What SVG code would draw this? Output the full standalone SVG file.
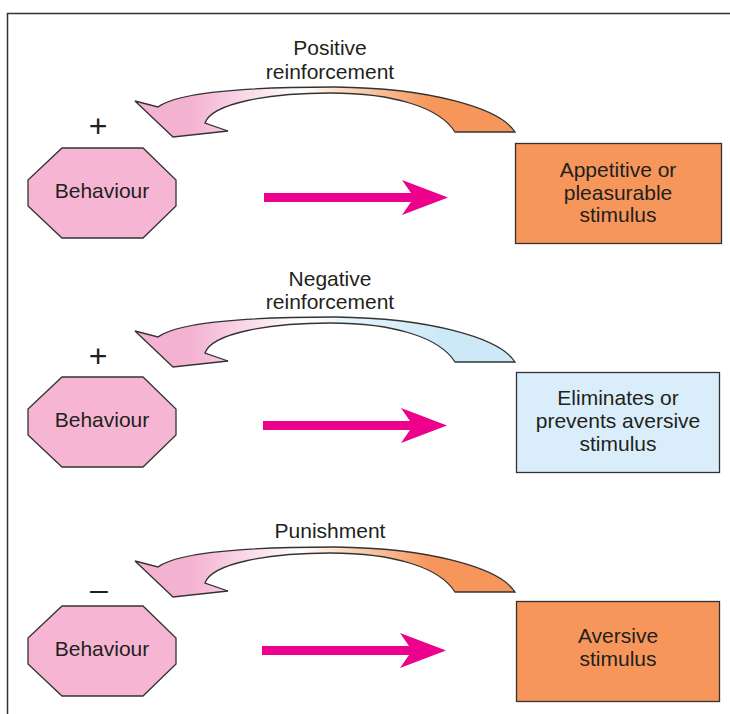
<svg xmlns="http://www.w3.org/2000/svg" width="730" height="714" viewBox="0 0 730 714">
<defs>
<style>
.t{font-family:"Liberation Sans",Arial,sans-serif;font-size:21px;fill:#231f20;text-anchor:middle}
.s{font-family:"Liberation Sans",Arial,sans-serif;font-size:32px;fill:#231f20;text-anchor:middle}
.oct{fill:#f6b6d3;stroke:#333;stroke-width:1.3}
.box{stroke:#333;stroke-width:1.3}
.cur{stroke:#333;stroke-width:1.3}
.str{fill:#ec008c}
</style>
<linearGradient id="gO" x1="0" y1="0" x2="1" y2="0">
<stop offset="0" stop-color="#f4b0d0"/>
<stop offset="0.15" stop-color="#f4b3d2"/>
<stop offset="0.44" stop-color="#ffffff"/>
<stop offset="0.56" stop-color="#fbd6bd"/>
<stop offset="0.78" stop-color="#f7965a"/>
<stop offset="1" stop-color="#f7965a"/>
</linearGradient>
<linearGradient id="gB" x1="0" y1="0" x2="1" y2="0">
<stop offset="0" stop-color="#f4b0d0"/>
<stop offset="0.15" stop-color="#f4b3d2"/>
<stop offset="0.44" stop-color="#ffffff"/>
<stop offset="0.56" stop-color="#e6f4fb"/>
<stop offset="0.8" stop-color="#cde9f8"/>
<stop offset="1" stop-color="#cde9f8"/>
</linearGradient>
<path id="curve" d="M135,101 L158,107 C180,90 270,87 335,87 C430,88 500,108 515,132 L455,132 C440,108 395,93 330,93 C270,93 212,103 205,123 L228,131 L173,137 Z"/>
<path id="straight" d="M264,193 L411,193 L402,180 L448,197.5 L402,215 L411,202 L264,202 Z"/>
</defs>
<rect width="730" height="714" fill="#fff"/>
<path d="M7.5,714 L7.5,13.5 L730,13.5" fill="none" stroke="#333" stroke-width="1.5"/>

<g id="connectors">
<use href="#curve" class="cur" fill="url(#gO)"/>
<use href="#curve" class="cur" fill="url(#gB)" transform="translate(0,230)"/>
<use href="#curve" class="cur" fill="url(#gO)" transform="translate(0,460)"/>
<use href="#straight" class="str"/>
<use href="#straight" class="str" transform="translate(-1,228)"/>
<use href="#straight" class="str" transform="translate(-2,453)"/>
</g>

<g id="label-positive">
<text class="t" x="330" y="55">Positive</text>
<text class="t" x="330" y="79">reinforcement</text>
</g>
<g id="label-negative">
<text class="t" x="330" y="286">Negative</text>
<text class="t" x="330" y="309">reinforcement</text>
</g>
<g id="label-punishment">
<text class="t" x="330" y="538">Punishment</text>
</g>

<g id="sign1"><text class="s" x="98" y="137">+</text></g>
<g id="sign2"><text class="s" x="98" y="367">+</text></g>
<g id="sign3"><text class="s" x="99" y="600">–</text></g>

<g id="behaviour1">
<polygon class="oct" points="62,148 143,148 176,180 176,206 143,238 62,238 28,206 28,180"/>
<text class="t" x="102" y="198">Behaviour</text>
</g>
<g id="behaviour2">
<polygon class="oct" points="62,377 143,377 176,409 176,435 143,467 62,467 28,435 28,409"/>
<text class="t" x="102" y="427">Behaviour</text>
</g>
<g id="behaviour3">
<polygon class="oct" points="62,606 143,606 176,638 176,664 143,696 62,696 28,664 28,638"/>
<text class="t" x="102" y="656">Behaviour</text>
</g>

<g id="appetitive">
<rect class="box" x="515.5" y="143.5" width="206" height="100" fill="#f7965a"/>
<text class="t" x="618" y="177">Appetitive or</text>
<text class="t" x="618" y="200">pleasurable</text>
<text class="t" x="618" y="222">stimulus</text>
</g>
<g id="eliminates">
<rect class="box" x="516.5" y="372.5" width="203" height="100" fill="#d9eefa"/>
<text class="t" x="618" y="405">Eliminates or</text>
<text class="t" x="618" y="428">prevents aversive</text>
<text class="t" x="618" y="451">stimulus</text>
</g>
<g id="aversive">
<rect class="box" x="516.5" y="601.5" width="203" height="100" fill="#f7965a"/>
<text class="t" x="618" y="643">Aversive</text>
<text class="t" x="618" y="666">stimulus</text>
</g>
</svg>
